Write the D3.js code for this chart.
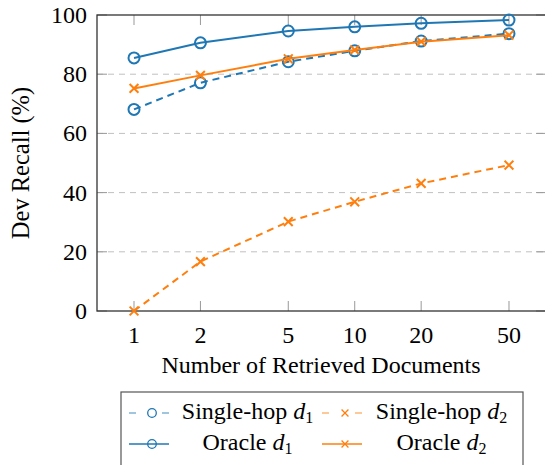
<!DOCTYPE html>
<html><head><meta charset="utf-8">
<script src="https://cdn.jsdelivr.net/npm/d3@7"></script>
<style>body{margin:0;background:#fff}svg{display:block}</style>
</head><body><svg id="c" width="545" height="465"></svg>
<script>
const docs = [1, 2, 5, 10, 20, 50];
const xTicks = [1, 2, 5, 10, 20, 50];
const yTicks = [0, 20, 40, 60, 80, 100];
const singleHopD1 = [68.1, 77.1, 84.2, 87.9, 91.2, 93.7];
const singleHopD2 = [0.0, 16.7, 30.2, 36.9, 43.1, 49.3];
const oracleD1 = [85.5, 90.6, 94.6, 96.0, 97.2, 98.3];
const oracleD2 = [75.2, 79.6, 85.2, 88.2, 91.0, 93.2];
const seriesNames = ["Single-hop", "Single-hop", "Oracle", "Oracle"];
const seriesSubs = ["1", "2", "1", "2"];

const FONT = '"Liberation Serif"';
const BLUE = "#1f77b4", ORANGE = "#ff7f0e";
const series = [
  {name: seriesNames[0], sub: seriesSubs[0], vals: singleHopD1, color: BLUE, dash: "7,5", marker: "o"},
  {name: seriesNames[1], sub: seriesSubs[1], vals: singleHopD2, color: ORANGE, dash: "7,5", marker: "x"},
  {name: seriesNames[2], sub: seriesSubs[2], vals: oracleD1, color: BLUE, dash: null, marker: "o"},
  {name: seriesNames[3], sub: seriesSubs[3], vals: oracleD2, color: ORANGE, dash: null, marker: "x"}
];

const svg = d3.select("#c");
const L = 97, R = 546, T = 15, B = 311;
const lx0 = Math.log10(1), lx1 = Math.log10(50), pad = (lx1 - lx0) * 0.0987;
const x = d3.scaleLog().domain([Math.pow(10, lx0 - pad), Math.pow(10, lx1 + pad)]).range([L, R]);
const y = d3.scaleLinear().domain([0, 100]).range([B, T]);

// grid
svg.append("g").selectAll("line").data(yTicks.filter(v => v > 0 && v < 100)).join("line")
  .attr("x1", L).attr("x2", R).attr("y1", d => y(d)).attr("y2", d => y(d))
  .attr("stroke", "#c0c0c0").attr("stroke-width", 1).attr("stroke-dasharray", "6,5");

// tick marks (inside)
const tk = svg.append("g").attr("stroke", "#999").attr("stroke-width", 1);
xTicks.forEach(v => {
  tk.append("line").attr("x1", x(v)).attr("x2", x(v)).attr("y1", B).attr("y2", B - 10);
  tk.append("line").attr("x1", x(v)).attr("x2", x(v)).attr("y1", T).attr("y2", T + 10);
});
yTicks.forEach(v => {
  tk.append("line").attr("x1", L).attr("x2", L + 10).attr("y1", y(v)).attr("y2", y(v));
  tk.append("line").attr("x1", R).attr("x2", R - 10).attr("y1", y(v)).attr("y2", y(v));
});

// frame
svg.append("rect").attr("x", L).attr("y", T).attr("width", R - L).attr("height", B - T)
  .attr("fill", "none").attr("stroke", "#333").attr("stroke-width", 1.3);

// tick labels
svg.append("g").selectAll("text").data(xTicks).join("text")
  .style("font-family", FONT)
  .attr("x", d => x(d)).attr("y", B + 32).attr("text-anchor", "middle")
  .attr("font-size", 24).text(d => d);
svg.append("g").selectAll("text").data(yTicks).join("text")
  .style("font-family", FONT)
  .attr("x", L - 10).attr("y", d => y(d) + 8).attr("text-anchor", "end")
  .attr("font-size", 24).text(d => d);

// axis titles
svg.append("text").style("font-family", FONT).attr("x", 321).attr("y", 373).attr("text-anchor", "middle")
  .attr("font-size", 24).text("Number of Retrieved Documents");
svg.append("text").style("font-family", FONT).attr("transform", `translate(29,${(T + B) / 2}) rotate(-90)`)
  .attr("text-anchor", "middle").attr("font-size", 24.5).text("Dev Recall (%)");

function drawMarker(g, type, cx, cy, color, r, sw) {
  if (type === "o") {
    g.append("circle").attr("cx", cx).attr("cy", cy).attr("r", r)
      .attr("fill", "none").attr("stroke", color).attr("stroke-width", sw);
  } else {
    const s = r * 0.8;
    g.append("path").attr("d", `M${cx - s},${cy - s}L${cx + s},${cy + s}M${cx - s},${cy + s}L${cx + s},${cy - s}`)
      .attr("stroke", color).attr("stroke-width", sw).attr("fill", "none");
  }
}

const line = d3.line().x(d => x(d[0])).y(d => y(d[1]));
series.forEach(s => {
  const pts = docs.map((d, i) => [d, s.vals[i]]);
  const g = svg.append("g");
  g.append("path").attr("d", line(pts)).attr("fill", "none").attr("stroke", s.color)
    .attr("stroke-width", 2).attr("stroke-dasharray", s.dash);
  pts.forEach(p => drawMarker(g, s.marker, x(p[0]), y(p[1]), s.color, 5.5, 2));
});

// legend
const lg = svg.append("g");
lg.append("rect").attr("x", 121).attr("y", 392).attr("width", 402).attr("height", 90)
  .attr("fill", "#fff").attr("stroke", "#555").attr("stroke-width", 1.2);
const cols = [{sx: 129, tx0: 182, tx1: 313}, {sx: 322, tx0: 375, tx1: 508}];
const rows = [413, 444];
series.forEach((s, i) => {
  const c = cols[i % 2], ry = rows[Math.floor(i / 2)];
  if (s.dash) {
    [[c.sx, c.sx + 7], [c.sx + 33, c.sx + 40]].forEach(seg =>
      lg.append("line").attr("x1", seg[0]).attr("x2", seg[1]).attr("y1", ry).attr("y2", ry)
        .attr("stroke", s.color).attr("stroke-width", 1.3).attr("opacity", 0.65));
  } else {
    lg.append("line").attr("x1", c.sx).attr("x2", c.sx + 40).attr("y1", ry).attr("y2", ry)
      .attr("stroke", s.color).attr("stroke-width", 1.3);
  }
  drawMarker(lg, s.marker, c.sx + 23, ry, s.color, 4.3, 1.3);
  const t = lg.append("text").style("font-family", FONT).attr("x", (c.tx0 + c.tx1) / 2).attr("y", ry + 6)
    .attr("text-anchor", "middle").attr("font-size", 24);
  t.append("tspan").text(s.name + " ");
  t.append("tspan").attr("font-style", "italic").text("d");
  t.append("tspan").attr("font-size", 16).attr("dy", 4).text(s.sub);
});
</script></body></html>
